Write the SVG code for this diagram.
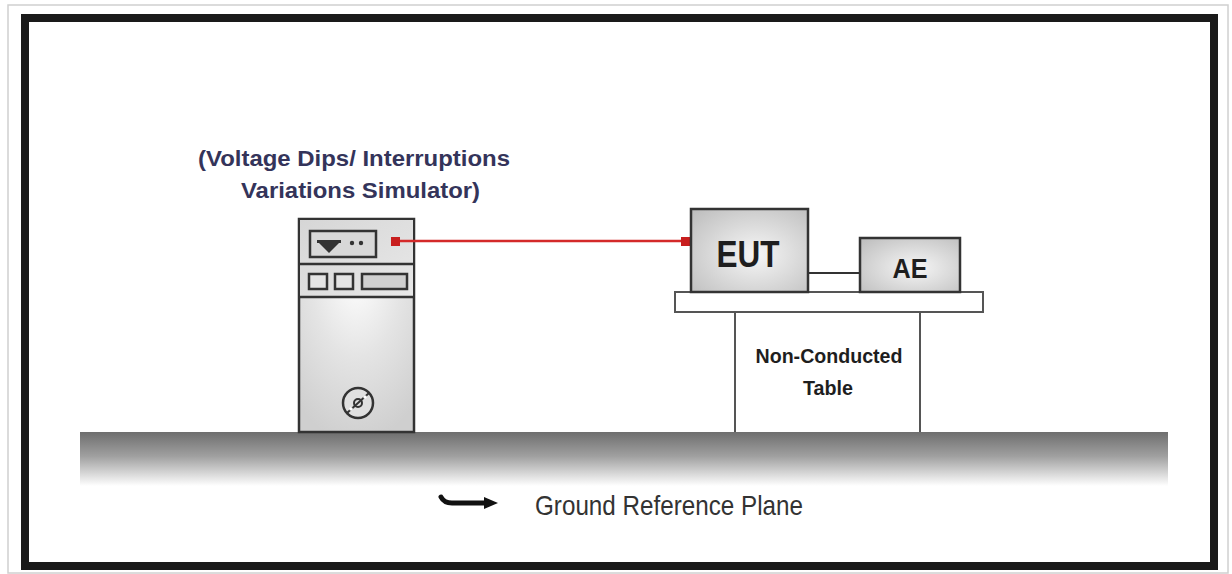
<svg xmlns="http://www.w3.org/2000/svg" width="1232" height="574" viewBox="0 0 1232 574">
  <defs>
    <linearGradient id="groundGrad" x1="0" y1="0" x2="0" y2="1">
      <stop offset="0" stop-color="#6e6e6e"/>
      <stop offset="0.45" stop-color="#a0a0a0"/>
      <stop offset="1" stop-color="#ffffff"/>
    </linearGradient>
    <radialGradient id="boxGrad" cx="0.55" cy="0.55" r="0.75">
      <stop offset="0" stop-color="#f6f6f6"/>
      <stop offset="1" stop-color="#bdbdbd"/>
    </radialGradient>
    <radialGradient id="cabinetGrad" cx="0.5" cy="0.25" r="0.8">
      <stop offset="0" stop-color="#ffffff"/>
      <stop offset="0.5" stop-color="#e4e4e4"/>
      <stop offset="1" stop-color="#cfcfcf"/>
    </radialGradient>
    <linearGradient id="panelGrad" x1="0" y1="0" x2="1" y2="1">
      <stop offset="0" stop-color="#d6d6d6"/>
      <stop offset="1" stop-color="#e8e8e8"/>
    </linearGradient>
  </defs>
  <style>
    .frame { fill: none; stroke: #1a1a1a; stroke-width: 8; }
    .edge { fill: none; stroke: #d0d0d0; stroke-width: 1.5; }
    .outline { stroke: #333; stroke-width: 2.5; }
    .thin { fill: none; stroke: #555; stroke-width: 2; }
    .label { font-family: "Liberation Sans", Arial, sans-serif; font-weight: bold; fill: #1e1e1e; }
    .title { font-family: "Liberation Sans", Arial, sans-serif; font-weight: bold; fill: #34345a; font-size: 22px; }
    .plain { font-family: "Liberation Sans", Arial, sans-serif; fill: #333; }
  </style>

  <rect x="0" y="0" width="1232" height="574" fill="#ffffff"/>
  <rect class="edge" x="8" y="5" width="1220" height="568"/>
  <rect class="frame" x="25" y="18" width="1189" height="548"/>

  <!-- ground reference plane -->
  <g id="ground">
    <rect x="80" y="432" width="1088" height="54" fill="url(#groundGrad)"/>
    <path d="M441 497 Q444 503 452 503 L486 503" fill="none" stroke="#111" stroke-width="5" stroke-linecap="round"/>
    <polygon points="484,497 498,503 484,509" fill="#111"/>
    <text class="plain" x="535" y="515" font-size="28" textLength="268" lengthAdjust="spacingAndGlyphs">Ground Reference Plane</text>
  </g>

  <!-- voltage dips / interruptions simulator -->
  <g id="simulator">
    <text class="title" x="198" y="166" textLength="312" lengthAdjust="spacingAndGlyphs">(Voltage Dips/ Interruptions</text>
    <text class="title" x="241" y="198" textLength="239" lengthAdjust="spacingAndGlyphs">Variations Simulator)</text>
    <rect class="outline" x="299" y="219" width="115" height="213" fill="url(#cabinetGrad)"/>
    <rect x="300" y="220" width="113" height="77" fill="url(#panelGrad)"/>
    <line class="outline" x1="299" y1="264" x2="414" y2="264"/>
    <line class="outline" x1="299" y1="297" x2="414" y2="297"/>
    <rect class="outline" x="310" y="231" width="66" height="26" fill="#d8d8d8"/>
    <rect x="317" y="240" width="24" height="3" fill="#333"/>
    <polygon points="318,242 340,242 329,253" fill="#333"/>
    <circle cx="352" cy="243" r="2.2" fill="#333"/>
    <circle cx="361" cy="243" r="2.2" fill="#333"/>
    <rect class="outline" x="309" y="274" width="18" height="15" fill="#e4e4e4"/>
    <rect class="outline" x="335" y="274" width="18" height="15" fill="#e4e4e4"/>
    <rect class="outline" x="362" y="274" width="45" height="15" fill="#cfcfcf"/>
    <circle cx="358" cy="403" r="15" fill="#e0e0e0" stroke="#333" stroke-width="2.5"/>
    <circle cx="358" cy="403" r="4" fill="none" stroke="#333" stroke-width="2"/>
    <path d="M347 413 L369 393" stroke="#333" stroke-width="2"/>
    <circle cx="351" cy="409" r="1.8" fill="#fff"/>
    <circle cx="365" cy="397" r="1.8" fill="#fff"/>
  </g>

  <!-- connectors -->
  <g id="connectors">
    <line x1="398" y1="241" x2="686" y2="241" stroke="#d42a2a" stroke-width="2.5"/>
    <rect x="391" y="237" width="9" height="9" fill="#c81e1e"/>
    <rect x="681" y="237" width="9" height="9" fill="#c81e1e"/>
    <line x1="808" y1="273" x2="860" y2="273" stroke="#333" stroke-width="2"/>
  </g>

  <!-- non-conducted table -->
  <g id="table">
    <line class="thin" x1="735" y1="312" x2="735" y2="432"/>
    <line class="thin" x1="920" y1="312" x2="920" y2="432"/>
    <rect x="675" y="292" width="308" height="20" fill="#ffffff" stroke="#555" stroke-width="2"/>
    <text class="label" x="829" y="363" font-size="21" text-anchor="middle" textLength="147" lengthAdjust="spacingAndGlyphs">Non-Conducted</text>
    <text class="label" x="828" y="395" font-size="21" text-anchor="middle" textLength="50" lengthAdjust="spacingAndGlyphs">Table</text>
  </g>

  <!-- equipment under test -->
  <g id="eut">
    <rect class="outline" x="691" y="209" width="117" height="83" fill="url(#boxGrad)"/>
    <text class="label" x="748" y="267" font-size="36" text-anchor="middle" textLength="63" lengthAdjust="spacingAndGlyphs">EUT</text>
  </g>

  <!-- auxiliary equipment -->
  <g id="ae">
    <rect class="outline" x="860" y="238" width="100" height="54" fill="url(#boxGrad)"/>
    <text class="label" x="910" y="278" font-size="28" text-anchor="middle" textLength="35" lengthAdjust="spacingAndGlyphs">AE</text>
  </g>
</svg>
